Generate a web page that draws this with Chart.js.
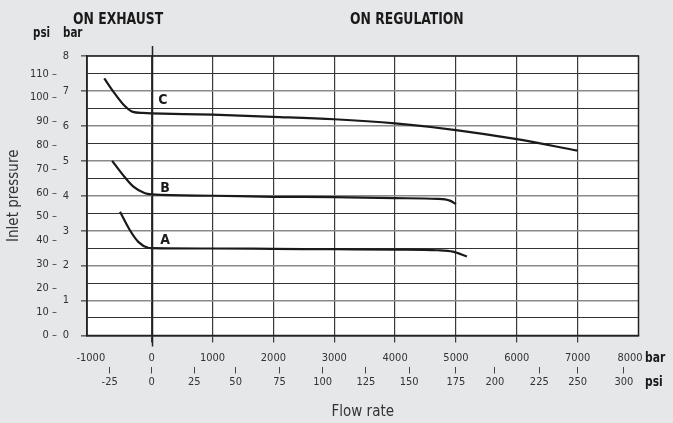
<!DOCTYPE html>
<html>
<head>
<meta charset="utf-8">
<script src="https://cdn.jsdelivr.net/npm/chart.js@4"></script>
<style>
html, body { margin: 0; padding: 0; background: #e6e7e9; }
#mainChart { display: block; }
</style>
</head>
<body>
<canvas id="mainChart" width="673" height="423"></canvas>
<script>
const FONT = "'Liberation Sans Narrow', 'DejaVu Sans Condensed', sans-serif";

// x axis: flow rate, top row labels and where they sit (last one is drawn a bit inside the frame)
const flowTicks = [-1000, 0, 1000, 2000, 3000, 4000, 5000, 6000, 7000, 8000];
const flowTickAt = [-1000, 0, 1000, 2000, 3000, 4000, 5000, 6000, 7000, 7860];
// second row labels and where they sit on the flow scale
const psiRowLabels = ['-25', '0', '25', '50', '75', '100', '125', '150', '175', '200', '225', '250', '300'];
const psiRowAt = [-690, 0, 700, 1380, 2100, 2810, 3520, 4230, 5000, 5640, 6370, 7000, 7760];

// y axes: bar (grid every half bar) and psi
const barTicks = [0, 0.5, 1, 1.5, 2, 2.5, 3, 3.5, 4, 4.5, 5, 5.5, 6, 6.5, 7, 7.5, 8];
const psiTicks = [0, 10, 20, 30, 40, 50, 60, 70, 80, 90, 100, 110];

// curves (flow, bar)
const flowA = [-520, -360, -220, -60, 0, 1000, 2000, 3000, 4000, 4700, 4950, 5180];
const barA  = [3.54, 3.02, 2.68, 2.51, 2.50, 2.49, 2.48, 2.47, 2.46, 2.44, 2.40, 2.26];
const flowB = [-650, -470, -300, -110, 0, 1000, 2000, 3000, 4000, 4700, 4900, 5000];
const barB  = [5.00, 4.59, 4.26, 4.07, 4.04, 4.00, 3.97, 3.96, 3.93, 3.91, 3.86, 3.76];
const flowC = [-780, -630, -470, -310, -150, 0, 1000, 2000, 3000, 4000, 5000, 6000, 7000];
const barC  = [7.36, 6.98, 6.62, 6.40, 6.37, 6.36, 6.32, 6.26, 6.19, 6.07, 5.88, 5.62, 5.29];

const curveNames = ['A', 'B', 'C'];
const curves = [[flowA, barA], [flowB, barB], [flowC, barC]];

const pts = (xs, ys) => xs.map((x, i) => ({ x: x, y: ys[i] }));

// squeezed bold text, the original uses a condensed face
function narrowText(ctx, txt, x, y, size, squeeze) {
    ctx.save();
    ctx.font = 'bold ' + size + 'px ' + FONT;
    ctx.translate(x, y);
    ctx.scale(squeeze, 1);
    ctx.fillText(txt, 0, 0);
    ctx.restore();
}

const decor = {
    id: 'decor',
    beforeDraw(chart) {
        const { ctx, chartArea: a } = chart;
        ctx.save();
        ctx.fillStyle = '#ffffff';
        ctx.fillRect(a.left, a.top, a.right - a.left, a.bottom - a.top);
        ctx.restore();
    },
    afterDatasetsDraw(chart) {
        const { ctx, chartArea: a, scales } = chart;
        ctx.save();
        ctx.strokeStyle = '#222';
        ctx.lineWidth = 1.5;
        ctx.strokeRect(a.left, a.top, a.right - a.left, a.bottom - a.top);
        // long zero line
        const x0 = Math.round(scales.x.getPixelForValue(0)) + 0.5;
        ctx.beginPath();
        ctx.moveTo(x0, a.top - 10);
        ctx.lineTo(x0, a.bottom + 11);
        ctx.stroke();
        // curve letters
        ctx.fillStyle = '#1a1a1a';
        ctx.font = 'bold 14px ' + FONT;
        ctx.textAlign = 'center';
        ctx.textBaseline = 'middle';
        const spots = { A: [220, 2.73], B: [220, 4.22], C: [185, 6.74] };
        curveNames.forEach(n => {
            ctx.fillText(n, scales.x.getPixelForValue(spots[n][0]), scales.y.getPixelForValue(spots[n][1]));
        });
        ctx.restore();
    },
    afterDraw(chart) {
        const ctx = chart.ctx;
        ctx.save();
        ctx.fillStyle = '#1a1a1a';
        ctx.textBaseline = 'alphabetic';
        ctx.textAlign = 'left';
        narrowText(ctx, 'ON EXHAUST', 73, 24, 16, 0.86);
        narrowText(ctx, 'ON REGULATION', 350, 24, 16, 0.86);
        narrowText(ctx, 'psi', 33, 37, 14, 0.82);
        narrowText(ctx, 'bar', 63, 37, 14, 0.82);
        ctx.textBaseline = 'middle';
        narrowText(ctx, 'bar', 645, 358, 14, 0.85);
        narrowText(ctx, 'psi', 645, 382, 14, 0.85);
        ctx.restore();
    }
};

const tickFont = { family: FONT, size: 11 };
const clear = 'rgba(0,0,0,0)';
const edgeTick = c => c.tick && (c.index === 0 || c.index === flowTickAt.length - 1);

new Chart(document.getElementById('mainChart'), {
    type: 'line',
    data: {
        datasets: curves.map((c, i) => ({
            label: curveNames[i],
            data: pts(c[0], c[1]),
            borderColor: '#1a1a1a',
            borderWidth: 2.2,
            pointRadius: 0,
            cubicInterpolationMode: 'monotone',
            fill: false,
            xAxisID: 'x',
            yAxisID: 'y'
        }))
    },
    options: {
        responsive: false,
        animation: false,
        layout: { padding: { top: 56, right: 34.5, left: 0, bottom: 0 } },
        plugins: { legend: { display: false }, tooltip: { enabled: false } },
        scales: {
            x: {
                type: 'linear', position: 'bottom', weight: 0,
                min: -1063, max: 8000,
                afterBuildTicks: s => { s.ticks = flowTickAt.map(v => ({ value: v })); },
                afterFit: s => { s.height = 31; },
                ticks: {
                    autoSkip: false, maxRotation: 0, font: tickFont, color: '#333', padding: 9,
                    callback: (v, i) => String(flowTicks[i])
                },
                grid: {
                    color: c => edgeTick(c) ? clear : '#3a3a3a',
                    tickColor: c => edgeTick(c) ? clear : '#3a3a3a',
                    lineWidth: 1.2, tickLength: 7
                },
                border: { display: true, color: '#222', width: 1.5 }
            },
            xPsi: {
                type: 'linear', position: 'bottom', weight: 1,
                min: -1063, max: 8000,
                afterBuildTicks: s => { s.ticks = psiRowAt.map(v => ({ value: v })); },
                afterFit: s => { s.height = 56.5; },
                ticks: {
                    autoSkip: false, maxRotation: 0, font: tickFont, color: '#333', padding: 2,
                    callback: (v, i) => psiRowLabels[i]
                },
                grid: { drawOnChartArea: false, color: '#444', lineWidth: 1, tickLength: 7 },
                border: { display: false },
                title: { display: true, text: 'Flow rate', font: { family: FONT, size: 15 }, color: '#333', padding: { top: 0, bottom: 2 } }
            },
            y: {
                type: 'linear', position: 'left', weight: 0,
                min: 0, max: 8,
                afterBuildTicks: s => { s.ticks = barTicks.map(v => ({ value: v })); },
                afterFit: s => { s.width = 29; },
                ticks: {
                    autoSkip: false, font: tickFont, color: '#333', padding: 12,
                    callback: v => Number.isInteger(v) ? String(v) : ''
                },
                grid: {
                    color: c => c.tick && Number.isInteger(c.tick.value) ? '#8a8a8a' : '#333',
                    lineWidth: c => c.tick && Number.isInteger(c.tick.value) ? 1.6 : 1.1,
                    tickColor: c => c.tick && Number.isInteger(c.tick.value) ? '#666' : clear,
                    tickLength: 6
                },
                border: { display: true, color: '#222', width: 1.5 }
            },
            yPsi: {
                type: 'linear', position: 'left', weight: 1,
                min: 0, max: 117.5,
                afterBuildTicks: s => { s.ticks = psiTicks.map(v => ({ value: v })); },
                afterFit: s => { s.width = 58; },
                ticks: { autoSkip: false, font: tickFont, color: '#333', padding: 1, callback: v => v + ' \u2013' },
                grid: { display: false, drawTicks: false },
                border: { display: false },
                title: { display: true, text: 'Inlet pressure', font: { family: FONT, size: 15 }, color: '#333', padding: { top: 5, bottom: 0 } }
            }
        }
    },
    plugins: [decor]
});
</script>
</body>
</html>
